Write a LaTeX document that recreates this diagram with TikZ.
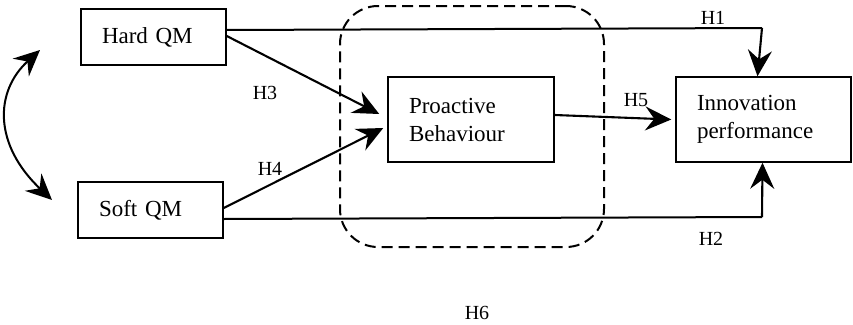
\documentclass[tikz,border=0pt]{standalone}
\usepackage{fontspec}
\setmainfont{Liberation Serif}
\usetikzlibrary{arrows.meta}
\begin{document}
\begin{tikzpicture}[x=1pt,y=-1pt,
  box/.style={draw, line width=1.5pt, align=left, inner xsep=21pt, inner ysep=0pt,
    font=\fontsize{23}{28}\selectfont},
  lab/.style={font=\fontsize{20}{24}\selectfont, inner sep=0pt},
  tip/.tip={Stealth[length=26pt,width=24pt,inset=9pt]},
  arr/.style={line width=2.1pt, -tip},
  plain/.style={line width=2pt},
  grpbox/.style={draw, dash pattern=on 11pt off 6pt, line width=2pt, rounded corners=38pt}]
\useasboundingbox (0,0) rectangle (853,324);
\node[grpbox, minimum width=264pt, minimum height=241pt] (grp) at (472,126.5) {};
\node[box, text width=103pt, minimum height=56pt] (hard) at (153.5,37) {Hard QM};
\node[box, text width=103pt, minimum height=56pt] (soft) at (150.5,210) {Soft QM};
\node[box, text width=124pt, minimum height=85pt] (pro) at (471,119.5) {Proactive\\Behaviour};
\node[box, text width=133pt, minimum height=85pt] (inn) at (763.5,119.5) {Innovation\\performance};
\coordinate (h1c) at (762,28);
\coordinate (h2c) at (762,217);
\coordinate (ca) at (40,50);
\coordinate (cb) at (52,200);
\draw[plain] ([yshift=7pt]hard.east) -- (h1c);
\draw[arr] (h1c) -- ([xshift=-6pt]inn.north);
\draw[plain] ([yshift=-9pt]soft.east) -- (h2c);
\draw[arr] (h2c) -- ([xshift=-1pt]inn.south);
\draw[arr] ([yshift=1pt]hard.east) -- ([xshift=-8pt,yshift=5.5pt]pro.west);
\draw[arr] ([yshift=2pt]soft.east) -- ([xshift=-4pt,yshift=-8.5pt]pro.west);
\draw[arr] ([yshift=4.5pt]pro.east) -- ([xshift=-4pt]inn.west);
\draw[line width=2pt, tip-tip] (ca) .. controls (-6,92) and (-6,145) .. (cb);
\node[lab] (l1) at (713,18) {H1};
\node[lab] (l2) at (711,239) {H2};
\node[lab] (l3) at (265,93) {H3};
\node[lab] (l4) at (270,169) {H4};
\node[lab] (l5) at (636,100) {H5};
\node[lab] (l6) at (477,313) {H6};
\end{tikzpicture}
\end{document}
